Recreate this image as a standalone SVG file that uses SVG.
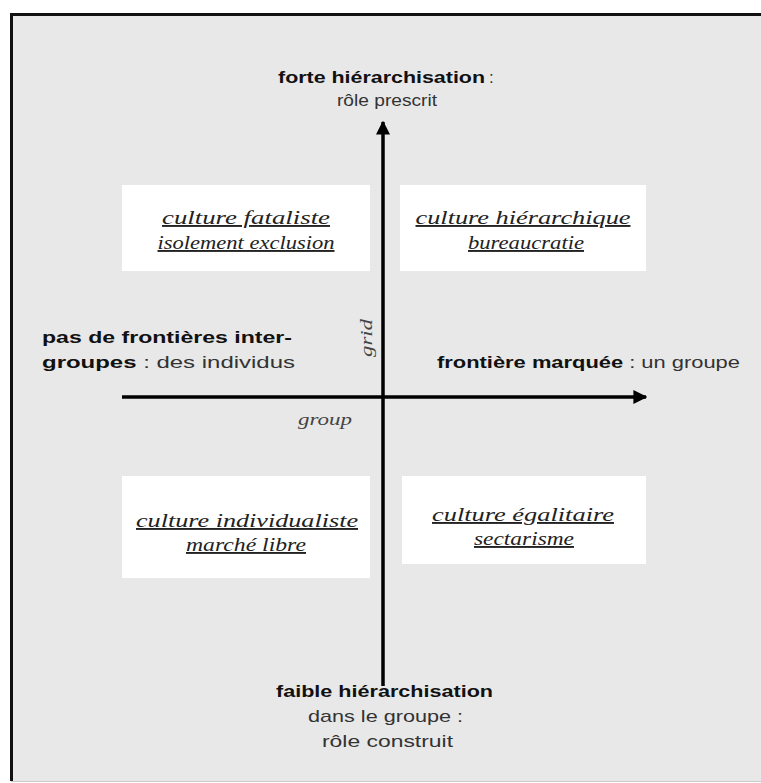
<svg xmlns="http://www.w3.org/2000/svg" width="761" height="783" viewBox="0 0 761 783">
<defs>
<style>
.sans{font-family:"Liberation Sans",Arial,sans-serif;font-size:17px;fill:#333}
.b{font-weight:bold;fill:#111}
.ser{font-family:"Liberation Serif","Times New Roman",serif;font-style:italic;font-size:19px;fill:#222;text-decoration:underline}
.axis{font-family:"Liberation Serif","Times New Roman",serif;font-style:italic;font-size:16px;fill:#444}
.box{fill:#fff}
.ln{stroke:#000;stroke-width:3.5;fill:none}
</style>
<marker id="ah" viewBox="0 0 10 10" refX="9" refY="5" markerWidth="4" markerHeight="4" orient="auto-start-reverse" markerUnits="strokeWidth">
<path d="M0,0 L10,5 L0,10 z" fill="#000"/>
</marker>
</defs>
<rect x="0" y="0" width="761" height="783" fill="#fff"/>
<g id="frame">
<rect x="11" y="14" width="752" height="767" fill="#e8e8e8"/>
<path d="M11.5,781 V14.5 H761" stroke="#111" stroke-width="3" fill="none"/>
<path d="M11,781.5 H761" stroke="#ccc" stroke-width="1"/>
</g>
<g id="connectors">
<line class="ln" x1="383" y1="686" x2="383" y2="122" marker-end="url(#ah)"/>
<line class="ln" x1="122" y1="397" x2="646" y2="397" marker-end="url(#ah)"/>
</g>
<g id="top-label">
<text class="sans b" x="278" y="83" textLength="207" lengthAdjust="spacingAndGlyphs">forte hiérarchisation</text>
<text class="sans" x="489" y="83">:</text>
<text class="sans" x="337" y="106" textLength="100" lengthAdjust="spacingAndGlyphs">rôle prescrit</text>
</g>
<g id="bottom-label">
<text class="sans b" x="276" y="697" textLength="217" lengthAdjust="spacingAndGlyphs">faible hiérarchisation</text>
<text class="sans" x="308" y="722" textLength="155" lengthAdjust="spacingAndGlyphs">dans le groupe :</text>
<text class="sans" x="322" y="747" textLength="131" lengthAdjust="spacingAndGlyphs">rôle construit</text>
</g>
<g id="left-label">
<text class="sans b" x="42" y="343" textLength="250" lengthAdjust="spacingAndGlyphs">pas de frontières inter-</text>
<text class="sans" x="42" y="368" textLength="253" lengthAdjust="spacingAndGlyphs"><tspan class="b">groupes</tspan> : des individus</text>
</g>
<g id="right-label">
<text class="sans" x="437" y="368" textLength="303" lengthAdjust="spacingAndGlyphs"><tspan class="b">frontière marquée</tspan> : un groupe</text>
</g>
<g id="axis-labels">
<text class="axis" x="0" y="0" transform="translate(372,338) rotate(-90)" text-anchor="middle" textLength="38" lengthAdjust="spacingAndGlyphs">grid</text>
<text class="axis" x="325" y="425" text-anchor="middle" textLength="54" lengthAdjust="spacingAndGlyphs">group</text>
</g>
<g id="fataliste">
<rect class="box" x="122" y="185" width="248" height="86"/>
<text class="ser" x="246" y="224" text-anchor="middle" textLength="168" lengthAdjust="spacingAndGlyphs">culture fataliste</text>
<text class="ser" x="246" y="249" text-anchor="middle" textLength="177" lengthAdjust="spacingAndGlyphs">isolement exclusion</text>
</g>
<g id="hierarchique">
<rect class="box" x="400" y="185" width="246" height="86"/>
<text class="ser" x="523" y="224" text-anchor="middle" textLength="215" lengthAdjust="spacingAndGlyphs">culture hiérarchique</text>
<text class="ser" x="526" y="249" text-anchor="middle" textLength="116" lengthAdjust="spacingAndGlyphs">bureaucratie</text>
</g>
<g id="individualiste">
<rect class="box" x="122" y="476" width="248" height="102"/>
<text class="ser" x="247" y="527" text-anchor="middle" textLength="222" lengthAdjust="spacingAndGlyphs">culture individualiste</text>
<text class="ser" x="246" y="551" text-anchor="middle" textLength="120" lengthAdjust="spacingAndGlyphs">marché libre</text>
</g>
<g id="egalitaire">
<rect class="box" x="402" y="476" width="244" height="88"/>
<text class="ser" x="523" y="521" text-anchor="middle" textLength="182" lengthAdjust="spacingAndGlyphs">culture égalitaire</text>
<text class="ser" x="524" y="545" text-anchor="middle" textLength="100" lengthAdjust="spacingAndGlyphs">sectarisme</text>
</g>
</svg>
